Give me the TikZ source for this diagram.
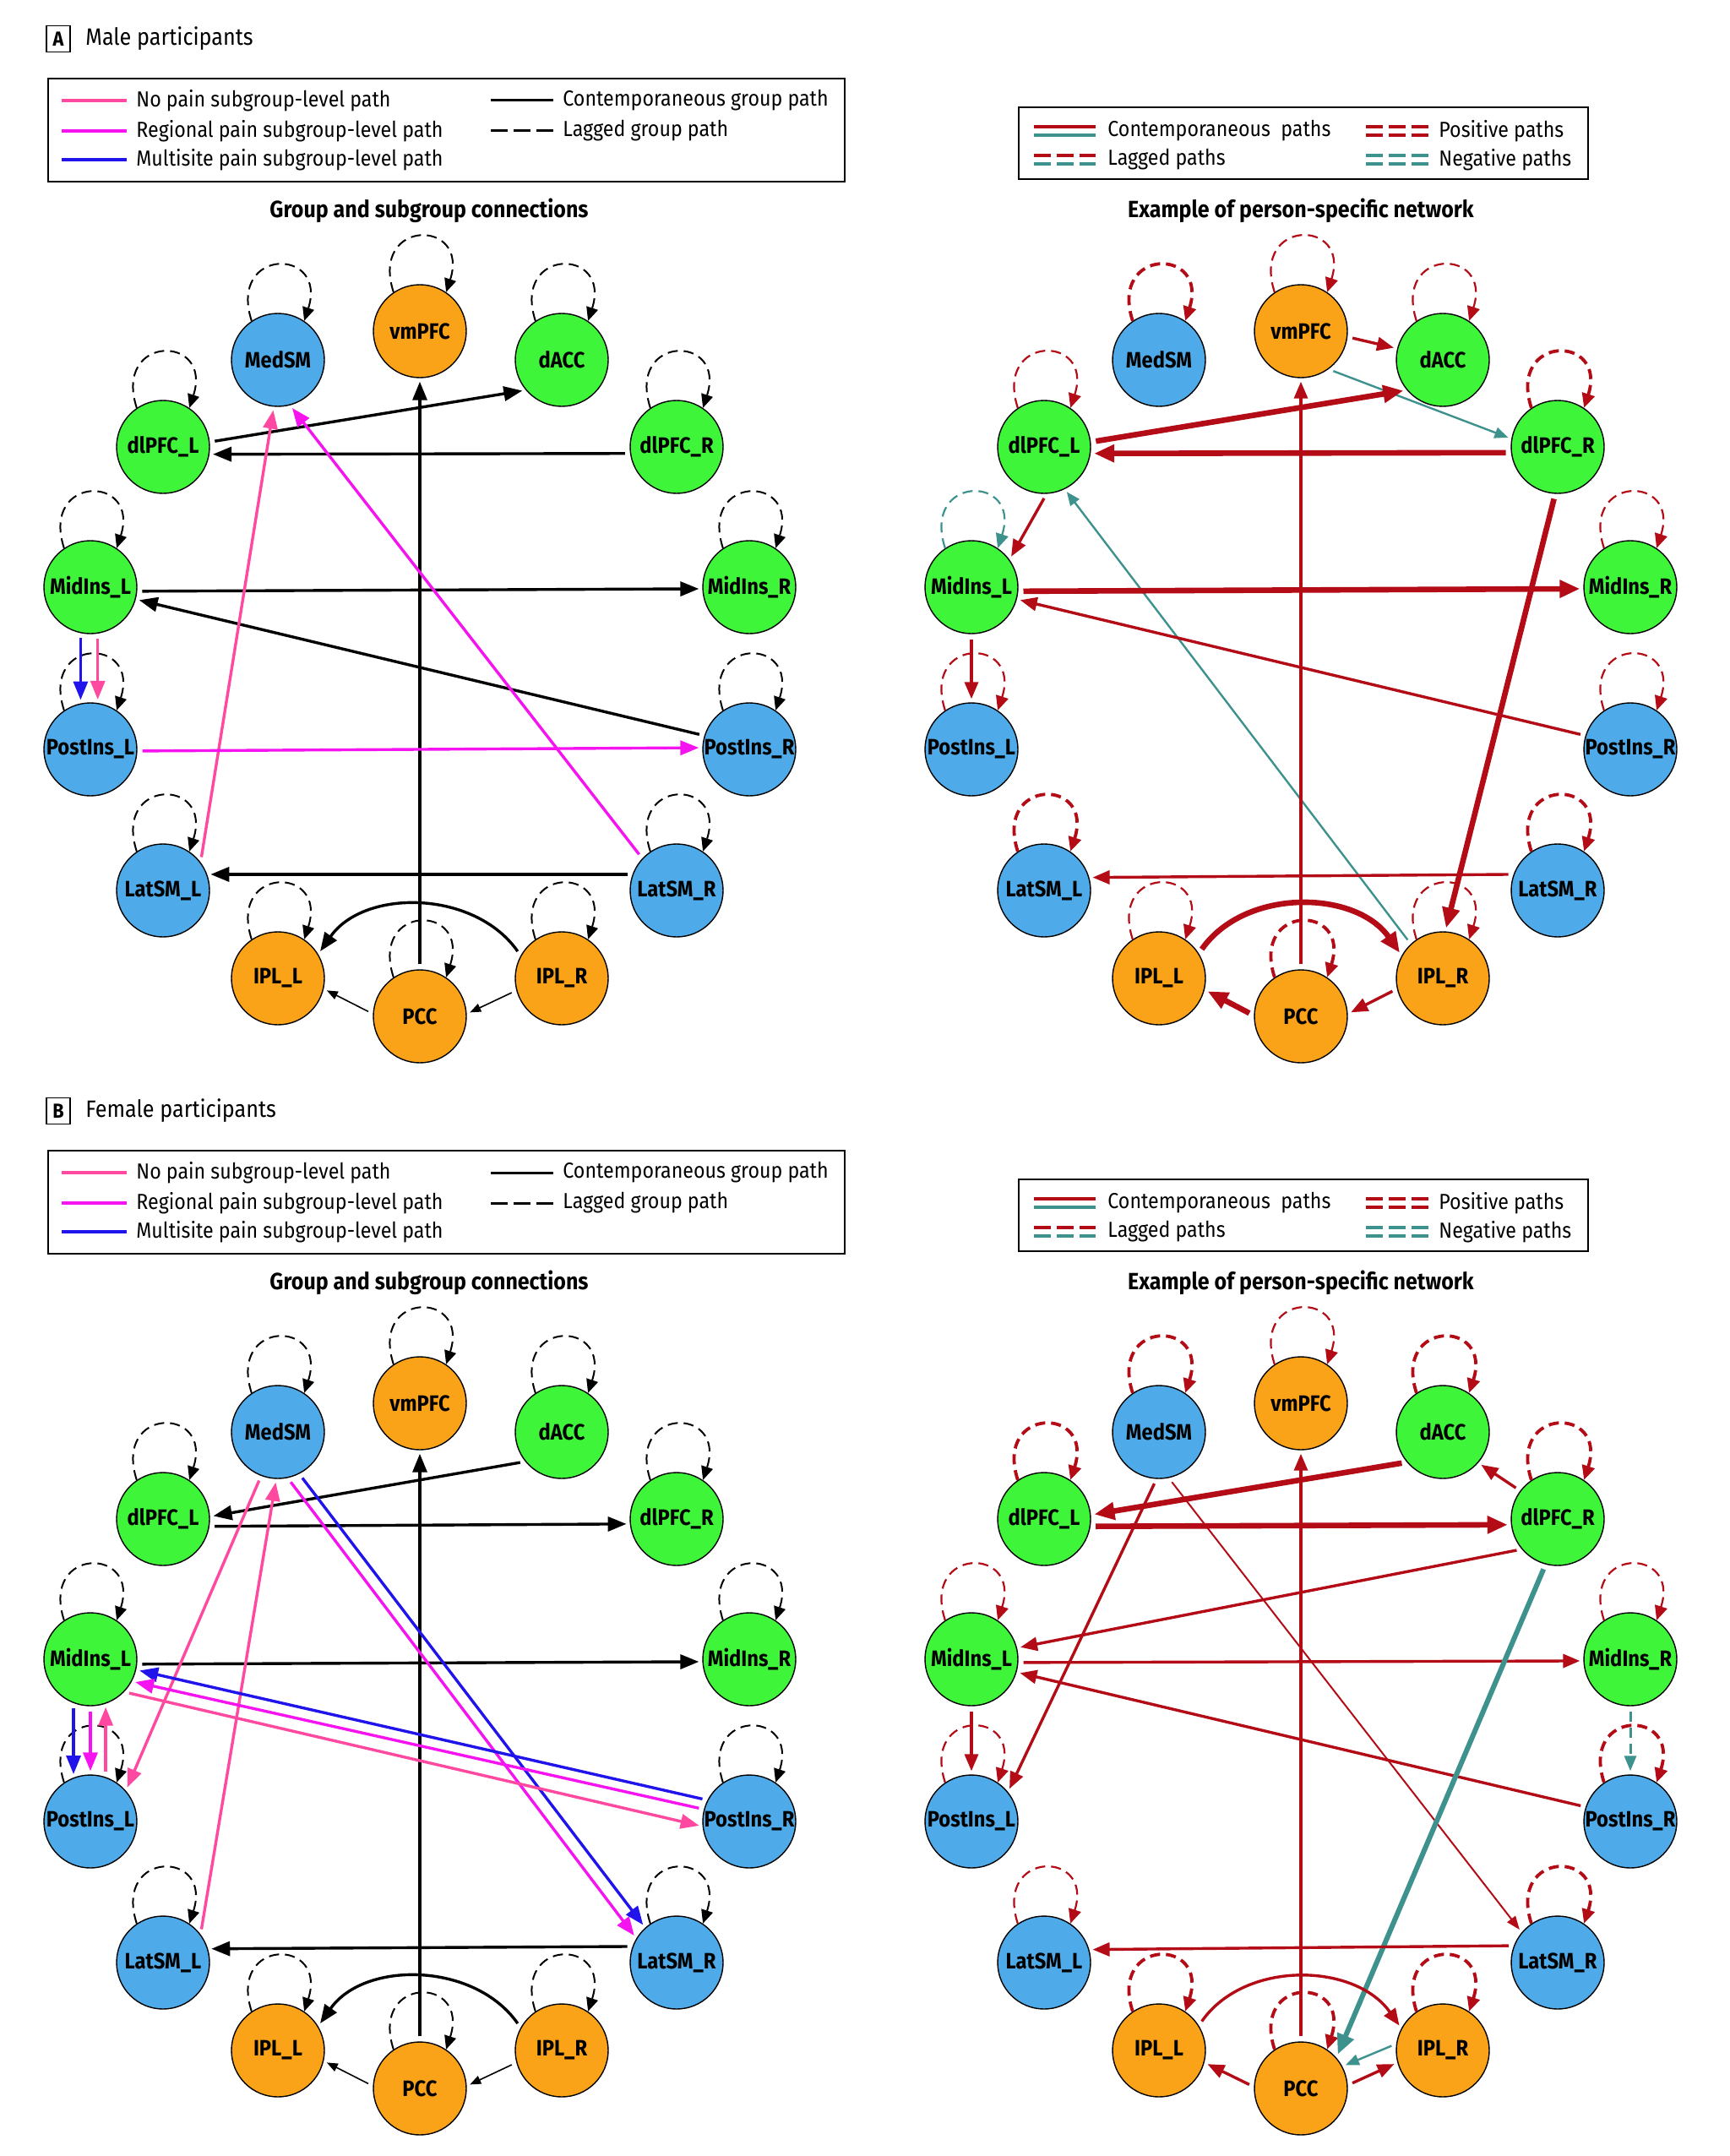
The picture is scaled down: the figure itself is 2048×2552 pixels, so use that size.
\documentclass[tikz,border=0pt]{standalone}
\usepackage{fontspec}
\setmainfont[FakeStretch=0.9]{Fira Sans}
\usetikzlibrary{arrows.meta}

\definecolor{regiongreen}{RGB}{62,245,58}
\definecolor{regionblue}{RGB}{78,170,232}
\definecolor{regionorange}{RGB}{250,162,24}
\definecolor{nopain}{RGB}{255,72,160}
\definecolor{regional}{RGB}{245,20,240}
\definecolor{multisite}{RGB}{32,20,235}
\definecolor{posred}{RGB}{180,12,22}
\definecolor{negteal}{RGB}{62,146,142}

\tikzset{
  region/.style={circle, draw, line width=0.7pt, minimum size=55pt, inner sep=0pt,
    font=\bfseries\fontsize{13.2}{14}\selectfont},
  link/.style={shorten <=3pt, shorten >=2pt},
  grouppath/.style={link, line width=1.7pt, -{Triangle[length=11pt,width=8.5pt]}},
  thingroup/.style={link, line width=0.8pt, -{Triangle[length=6.5pt,width=5pt]}},
  grouploop/.style={line width=1pt, dash pattern=on 6pt off 3.5pt, -{Triangle[length=8pt,width=7pt]}},
  redloop/.style={posred, line width=1.1pt, dash pattern=on 6pt off 3.5pt, -{Triangle[length=8.5pt,width=7.5pt]}},
  redthick/.style={link, posred, line width=3.3pt, -{Triangle[length=12pt,width=10pt]}},
  redmid/.style={link, posred, line width=1.7pt, -{Triangle[length=10pt,width=8pt]}},
  redthin/.style={link, posred, line width=1pt, -{Triangle[length=8pt,width=6pt]}},
  tealthick/.style={link, negteal, line width=3pt, -{Triangle[length=12pt,width=10pt]}},
  tealthin/.style={link, negteal, line width=1.2pt, -{Triangle[length=8pt,width=6.5pt]}},
  tealdash/.style={link, negteal, line width=1.5pt, dash pattern=on 6pt off 3.5pt, -{Triangle[length=9pt,width=7pt]}},
  legendtext/.style={anchor=west, inner sep=0pt, font=\fontsize{12.9}{14}\selectfont},
  titletext/.style={inner sep=0pt, font=\bfseries\fontsize{13.9}{15}\selectfont},
  keydash/.style={dash pattern=on 10pt off 3.5pt},
}

% the 14 regions of one network, around its centre
\newcommand{\brainregions}{%
  \node[region, fill=regionorange] (vmPFC) at (0,405) {vmPFC};
  \node[region, fill=regionblue] (MedSM) at (-168,371) {MedSM};
  \node[region, fill=regiongreen] (dACC) at (168,371) {dACC};
  \node[region, fill=regiongreen] (dlPFCL) at (-304,268) {dlPFC\_L};
  \node[region, fill=regiongreen] (dlPFCR) at (304,268) {dlPFC\_R};
  \node[region, fill=regiongreen] (MidInsL) at (-390,102) {MidIns\_L};
  \node[region, fill=regiongreen] (MidInsR) at (390,102) {MidIns\_R};
  \node[region, fill=regionblue] (PostInsL) at (-390,-90) {PostIns\_L};
  \node[region, fill=regionblue] (PostInsR) at (390,-90) {PostIns\_R};
  \node[region, fill=regionblue] (LatSML) at (-304,-257) {LatSM\_L};
  \node[region, fill=regionblue] (LatSMR) at (304,-257) {LatSM\_R};
  \node[region, fill=regionorange] (IPLL) at (-168,-361) {IPL\_L};
  \node[region, fill=regionorange] (IPLR) at (168,-361) {IPL\_R};
  \node[region, fill=regionorange] (PCC) at (0,-406) {PCC};
}

\newcommand{\selfloop}[2]{\draw[#1] (#2.124) .. controls +(108:92) and +(72:92) .. (#2.56)}

% panel letter, heading, both legends and both titles
\newcommand{\panelhead}[2]{%
  \node[draw, line width=0.8pt, minimum width=14pt, minimum height=15.5pt, inner sep=0pt,
    font=\bfseries\fontsize{12}{14}\selectfont] (letter) at (69,-46) {#1};
  \node[anchor=west, inner sep=0pt, font=\fontsize{14}{16}\selectfont] (heading) at (101,-46) {#2};
  \draw[line width=0.8pt] (57,-93) rectangle (1000,-215);
  \draw[nopain, line width=2.2pt] (73,-119) -- (150,-119);
  \draw[regional, line width=2.2pt] (73,-155) -- (150,-155);
  \draw[multisite, line width=2.2pt] (73,-189) -- (150,-189);
  \draw[line width=1.5pt] (581,-119) -- (655,-119);
  \draw[line width=1.5pt, keydash] (581,-155) -- (655,-155);
  \node[legendtext] (nopainkey) at (161,-119) {No pain subgroup-level path};
  \node[legendtext] (regionalkey) at (161,-155) {Regional pain subgroup-level path};
  \node[legendtext] (multisitekey) at (161,-189) {Multisite pain subgroup-level path};
  \node[legendtext] (contkey) at (666,-119) {Contemporaneous group path};
  \node[legendtext] (laggedkey) at (666,-155) {Lagged group path};
  \draw[line width=0.8pt] (1206,-127) rectangle (1880,-212);
  \draw[posred, line width=2.2pt] (1224,-150) -- (1297,-150);
  \draw[negteal, line width=2.2pt] (1224,-160) -- (1297,-160);
  \draw[posred, line width=2.2pt, keydash] (1224,-184) -- (1297,-184);
  \draw[negteal, line width=2.2pt, keydash] (1224,-194) -- (1297,-194);
  \draw[posred, line width=2.2pt, keydash] (1617,-150) -- (1693,-150);
  \draw[posred, line width=2.2pt, keydash] (1617,-160) -- (1693,-160);
  \draw[negteal, line width=2.2pt, keydash] (1617,-184) -- (1693,-184);
  \draw[negteal, line width=2.2pt, keydash] (1617,-194) -- (1693,-194);
  \node[legendtext] (contpathkey) at (1311,-155) {Contemporaneous\ \ paths};
  \node[legendtext] (lagpathkey) at (1311,-189) {Lagged paths};
  \node[legendtext] (poskey) at (1703,-155) {Positive paths};
  \node[legendtext] (negkey) at (1703,-189) {Negative paths};
  \node[titletext] (grouptitle) at (508,-249) {Group and subgroup connections};
  \node[titletext] (persontitle) at (1540,-249) {Example of person-specific network};
}

\begin{document}
\begin{tikzpicture}[x=0.5pt, y=0.5pt]
\useasboundingbox (0,0) rectangle (2048,-2552);

\begin{scope}[name prefix=A-]
  \panelhead{A}{Male participants}
\end{scope}
\begin{scope}[shift={(0,-1269)}, name prefix=B-]
  \panelhead{B}{Female participants}
\end{scope}

% A, group and subgroup connections
\begin{scope}[shift={(497,-797)}, name prefix=ma-]
\brainregions
\foreach \reg in {vmPFC,MedSM,dACC,dlPFCL,dlPFCR,MidInsL,MidInsR,PostInsL,PostInsR,LatSML,LatSMR,IPLL,IPLR,PCC}
  {\selfloop{grouploop}{\reg};}
\draw[grouppath] (dlPFCL.6) -- (dACC.220);
\draw[grouppath] (dlPFCR.188) -- (dlPFCL.-9);
\draw[grouppath] (MidInsL.-5) -- (MidInsR.182);
\draw[grouppath] (PostInsR.163) -- (MidInsL.-15);
\draw[grouppath] (LatSMR.160) -- (LatSML.20);
\draw[grouppath] (PCC.north) -- (vmPFC.south);
\draw[grouppath] (IPLR.151) .. controls +(125:95) and +(55:95) .. (IPLL.31);
\draw[thingroup] (PCC.177) -- (IPLL.-13);
\draw[thingroup] (IPLR.195) -- (PCC.3);
\draw[grouppath, nopain] (LatSML.37) -- (MedSM.265);
\draw[grouppath, regional] (LatSMR.137) -- (MedSM.285);
\draw[grouppath, regional] (PostInsL.-2) -- (PostInsR.178);
\draw[grouppath, multisite] (MidInsL.258) -- (PostInsL.102);
\draw[grouppath, nopain] (MidInsL.279) -- (PostInsL.81);
\end{scope}

% A, person-specific network
\begin{scope}[shift={(1540,-797)}, name prefix=mp-]
\brainregions
\foreach \reg in {vmPFC,dACC,dlPFCL,MidInsR,PostInsL,PostInsR,IPLL,IPLR}
  {\selfloop{redloop}{\reg};}
\foreach \reg in {MedSM,dlPFCR,LatSML,LatSMR,PCC}
  {\selfloop{redloop, line width=1.9pt}{\reg};}
\selfloop{redloop, negteal}{MidInsL};
\draw[redmid] (vmPFC.-7) -- (dACC.166);
\draw[tealthin] (vmPFC.-54) -- (dlPFCR.170);
\draw[redthick] (dlPFCL.6) -- (dACC.220);
\draw[redthick] (dlPFCR.187) -- (dlPFCL.-8);
\draw[redmid] (dlPFCL.273) -- (MidInsL.36);
\draw[tealthin] (IPLR.133) -- (dlPFCL.-64);
\draw[redthick] (dlPFCR.267) -- (IPLR.87);
\draw[redthick] (MidInsL.-5) -- (MidInsR.182);
\draw[redmid] (PostInsR.163) -- (MidInsL.-15);
\draw[redmid] (MidInsL.south) -- (PostInsL.north);
\draw[redmid] (PCC.north) -- (vmPFC.south);
\draw[redmid] (LatSMR.160) -- (LatSML.16);
\draw[redthick] (IPLL.32) .. controls +(55:95) and +(125:95) .. (IPLR.151);
\draw[redthick] (PCC.179) -- (IPLL.-14);
\draw[redmid] (IPLR.193) -- (PCC.3);
\end{scope}

% B, group and subgroup connections
\begin{scope}[shift={(497,-2066)}, name prefix=fa-]
\brainregions
\foreach \reg in {vmPFC,MedSM,dACC,dlPFCL,dlPFCR,MidInsL,MidInsR,PostInsL,PostInsR,LatSML,LatSMR,IPLL,IPLR,PCC}
  {\selfloop{grouploop}{\reg};}
\draw[grouppath] (dACC.219) -- (dlPFCL.3);
\draw[grouppath] (dlPFCL.-9) -- (dlPFCR.186);
\draw[grouppath] (MidInsL.-6) -- (MidInsR.183);
\draw[grouppath] (LatSMR.160) -- (LatSML.17);
\draw[grouppath] (PCC.north) -- (vmPFC.south);
\draw[grouppath] (IPLR.151) .. controls +(125:95) and +(55:95) .. (IPLL.31);
\draw[thingroup] (PCC.177) -- (IPLL.-13);
\draw[thingroup] (IPLR.195) -- (PCC.3);
\draw[grouppath, nopain] (MedSM.249) -- (PostInsL.41);
\draw[grouppath, nopain] (LatSML.37) -- (MedSM.268);
\draw[grouppath, regional] (MedSM.282) -- (LatSMR.149);
\draw[grouppath, multisite] (MedSM.297) -- (LatSMR.132);
\draw[grouppath, multisite] (PostInsR.153) -- (MidInsL.-13);
\draw[grouppath, regional] (PostInsR.165) -- (MidInsL.-28);
\draw[grouppath, nopain] (MidInsL.-44) -- (PostInsR.186);
\draw[grouppath, multisite] (MidInsL.249) -- (PostInsL.111);
\draw[grouppath, regional] (MidInsL.south) -- (PostInsL.north);
\draw[grouppath, nopain] (PostInsL.71) -- (MidInsL.289);
\end{scope}

% B, person-specific network
\begin{scope}[shift={(1540,-2066)}, name prefix=fp-]
\brainregions
\foreach \reg in {vmPFC,MidInsL,MidInsR,PostInsL,LatSML}
  {\selfloop{redloop}{\reg};}
\foreach \reg in {MedSM,dACC,dlPFCL,dlPFCR,PostInsR,LatSMR,IPLL,IPLR,PCC}
  {\selfloop{redloop, line width=1.9pt}{\reg};}
\draw[redthick] (dACC.220) -- (dlPFCL.5);
\draw[redthick] (dlPFCL.-9) -- (dlPFCR.187);
\draw[redmid] (dlPFCR.143) -- (dACC.-41);
\draw[redmid] (dlPFCR.220) -- (MidInsL.14);
\draw[redmid] (MedSM.267) -- (PostInsL.39);
\draw[redthin] (MedSM.282) -- (LatSMR.140);
\draw[redmid] (MidInsL.-4) -- (MidInsR.182);
\draw[redmid] (PostInsR.162) -- (MidInsL.-16);
\draw[redmid] (MidInsL.south) -- (PostInsL.north);
\draw[tealdash] (MidInsR.south) -- (PostInsR.north);
\draw[redmid] (PCC.north) -- (vmPFC.south);
\draw[tealthick] (dlPFCR.255) -- (PCC.41);
\draw[redmid] (LatSMR.159) -- (LatSML.16);
\draw[redmid] (IPLL.32) .. controls +(55:95) and +(125:95) .. (IPLR.152);
\draw[redmid] (PCC.178) -- (IPLL.-15);
\draw[redmid] (PCC.4) -- (IPLR.195);
\draw[tealthin] (IPLR.172) -- (PCC.28);
\end{scope}
\end{tikzpicture}
\end{document}
